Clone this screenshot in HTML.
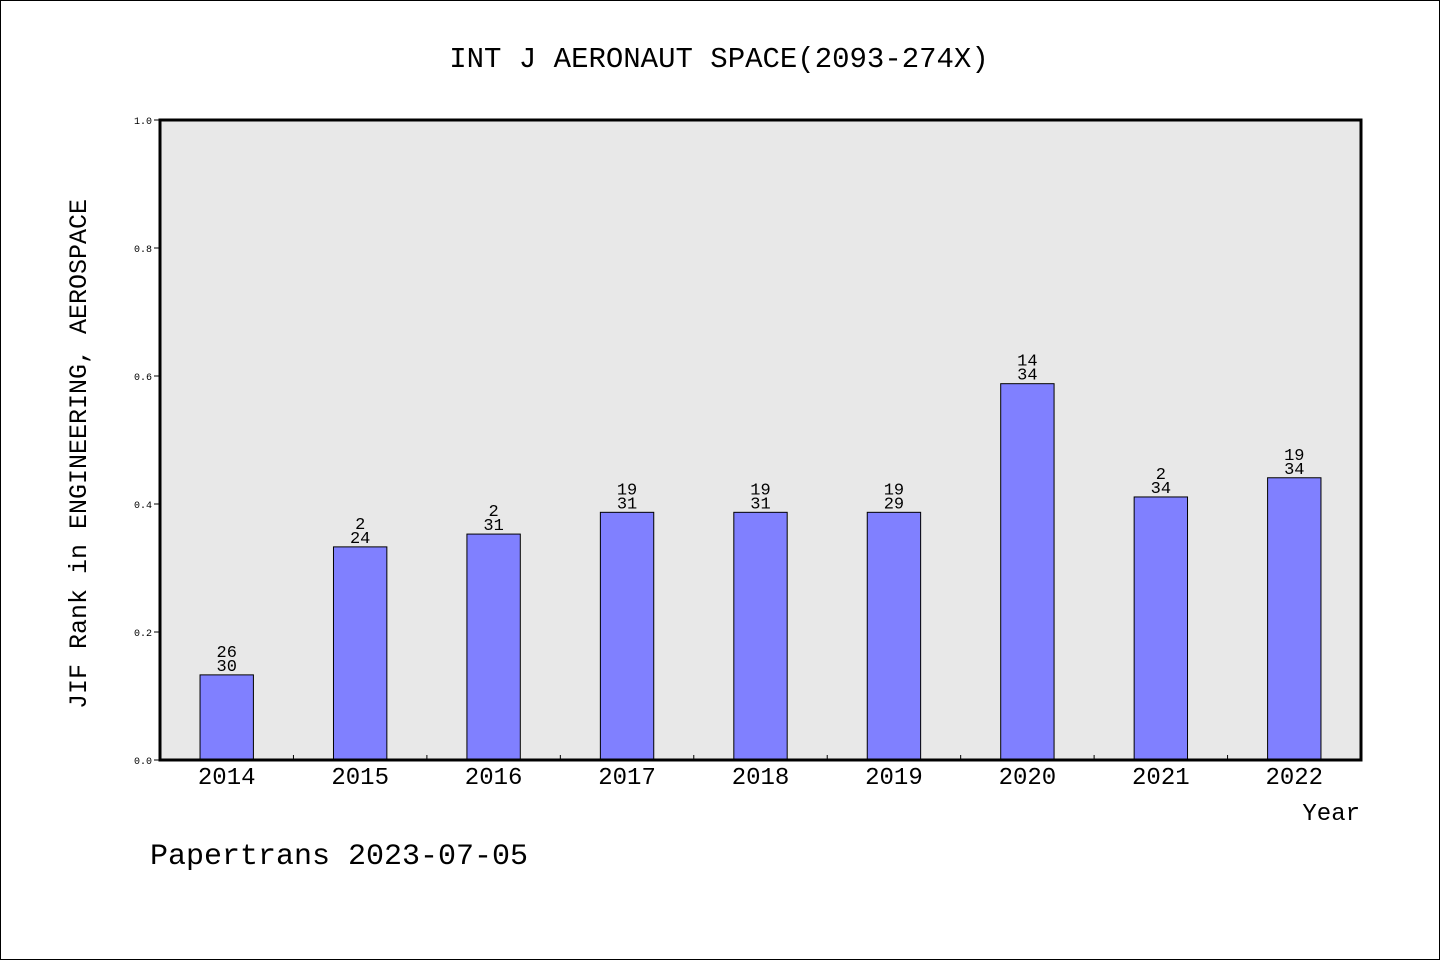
<!DOCTYPE html>
<html><head><meta charset="utf-8"><style>
body{margin:0;background:#fff}
svg text{font-family:"Liberation Mono","Noto Sans CJK SC",monospace;fill:#000}
</style></head><body>
<svg width="1440" height="960" xmlns="http://www.w3.org/2000/svg">
<rect x="0.5" y="0.5" width="1439" height="959" fill="#fff" stroke="#000"/>
<text x="719" y="67" font-size="29" text-anchor="middle">INT J AERONAUT SPACE(2093-274X)</text>
<rect x="160" y="120" width="1201" height="640" fill="#e8e8e8"/>
<g id="yaxis"></g><g id="bars"></g><g id="xaxis"></g>
<rect x="160" y="120" width="1201" height="640" fill="none" stroke="#000" stroke-width="3"/>
<text transform="translate(86,454) rotate(-90)" font-size="25" text-anchor="middle">JIF Rank in ENGINEERING, AEROSPACE</text>
<text x="1360" y="820" font-size="24" text-anchor="end">Year</text>
<text x="150" y="864" font-size="30">Papertrans 2023-07-05</text>
</svg>
<script>
const categories=["2014","2015","2016","2017","2018","2019","2020","2021","2022"];
const values=[0.133,0.333,0.353,0.387,0.387,0.387,0.588,0.411,0.441];
const topLabels=["26","2","2","19","19","19","14","2","19"];
const bottomLabels=["30","24","31","31","31","29","34","34","34"];
const yTicks=[0,0.2,0.4,0.6,0.8,1.0];
const yTickLabels=["0.0","0.2","0.4","0.6","0.8","1.0"];
const NS="http://www.w3.org/2000/svg";
const X0=160,X1=1361,Y0=760,Y1=120;
const band=(X1-X0)/categories.length;
const xC=i=>X0+band*(i+0.5);
const yS=v=>Y0-(Y0-Y1)*v;
function mk(t,a,p){const e=document.createElementNS(NS,t);for(const k in a)e.setAttribute(k,a[k]);p.appendChild(e);return e;}
const ya=document.getElementById('yaxis'),bg=document.getElementById('bars'),xa=document.getElementById('xaxis');
yTicks.forEach((v,i)=>{
 const l=mk('line',{x1:X0-6,x2:X0,y1:yS(v),y2:yS(v),stroke:'#000'},ya);
 
 
 const t=mk('text',{x:X0-8,y:yS(v)+4,'font-size':10,'text-anchor':'end'},ya);
 t.textContent=yTickLabels[i];
 
 
});
categories.forEach((c,i)=>{
 const w=band*0.4,x=xC(i)-w/2,y=yS(values[i]);
 const r=mk('rect',{x:x,y:y,width:w,height:Y0-y,fill:'#8080ff',stroke:'#000','stroke-width':1},bg);
 
 
 const t1=mk('text',{x:xC(i),y:y-18,'font-size':17,'text-anchor':'middle'},bg);
 t1.textContent=topLabels[i];
 
 
 const t2=mk('text',{x:xC(i),y:y-4,'font-size':17,'text-anchor':'middle'},bg);
 t2.textContent=bottomLabels[i];
 
 
 const xl=mk('text',{x:xC(i),y:784,'font-size':24,'text-anchor':'middle'},xa);
 xl.textContent=c;
 
 
 if(i>0){
  const tk=mk('line',{x1:X0+band*i,x2:X0+band*i,y1:Y0-5,y2:Y0,stroke:'#000'},xa);
  
  
 }
});
</script>
</body></html>
